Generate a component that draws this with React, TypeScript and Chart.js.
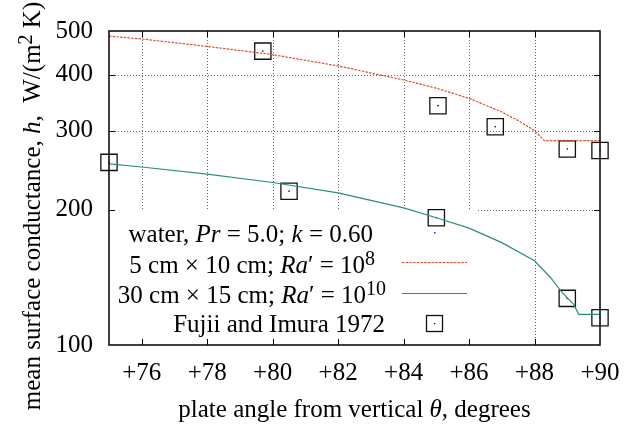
import React, { useEffect, useRef } from "react";
import { Chart, registerables } from "chart.js";
Chart.register(...registerables);

// ---- data ----
const xTickValues = [76, 78, 80, 82, 84, 86, 88, 90];
const yTickValues = [100, 200, 300, 400, 500];

// 5 cm x 10 cm; Ra' = 1e8
const smallPlateTheta = [75, 76, 78, 80, 82, 84, 85, 86, 86.5, 87, 87.5, 88, 88.3, 90];
const smallPlateH = [487, 480, 462, 443, 418, 389, 373, 354, 342, 330, 316, 300, 285, 285];

// 30 cm x 15 cm; Ra' = 1e10
const largePlateTheta = [75, 76, 78, 80, 82, 84, 85, 86, 87, 88, 88.5, 88.8, 89.2, 89.35, 90];
const largePlateH = [253, 249, 240, 230, 218, 202, 192, 182, 169, 154, 141, 132, 123, 117, 117];

// Fujii and Imura 1972
const fujiiTheta = [75, 79.7, 80.5, 85.05, 86.8, 89, 90, 85, 89, 90];
const fujiiH = [255, 451, 220, 341, 306, 273, 271, 192, 127, 115];

const FONT = '"Liberation Serif", "DejaVu Serif", serif';
const FS = 25;
const RED = "#d9522c";
const GREEN = "#2a8f78";
const PURPLE = "#9400d3";

type Seg = { t: string; it?: boolean; sup?: boolean };

const legendLines: Seg[][] = [
  [{ t: "water, " }, { t: "Pr", it: true }, { t: " = 5.0; " }, { t: "k", it: true }, { t: " = 0.60" }],
  [{ t: "5 cm \u00d7 10 cm; " }, { t: "Ra", it: true }, { t: "\u2032 = 10" }, { t: "8", sup: true }],
  [{ t: "30 cm \u00d7 15 cm; " }, { t: "Ra", it: true }, { t: "\u2032 = 10" }, { t: "10", sup: true }],
  [{ t: "Fujii and Imura 1972" }],
];

function segFont(s: Seg, size: number) {
  return `${s.it ? "italic " : ""}${s.sup ? Math.round(size * 0.8) : size}px ${FONT}`;
}
function richWidth(ctx: CanvasRenderingContext2D, segs: Seg[], size: number) {
  let w = 0;
  for (const s of segs) {
    ctx.font = segFont(s, size);
    w += ctx.measureText(s.t).width;
  }
  return w;
}
function drawRich(ctx: CanvasRenderingContext2D, segs: Seg[], x: number, y: number, size: number) {
  let cx = x;
  ctx.textBaseline = "alphabetic";
  ctx.textAlign = "left";
  for (const s of segs) {
    ctx.font = segFont(s, size);
    ctx.fillText(s.t, cx, s.sup ? y - size * 0.3 : y);
    cx += ctx.measureText(s.t).width;
  }
}

export default function App() {
  const ref = useRef<HTMLCanvasElement>(null);
  useEffect(() => {
    document.body.style.margin = "0";
    const canvas = ref.current!;
    const ctx = canvas.getContext("2d")!;
    const toXY = (xs: number[], ys: number[]) => xs.map((x, i) => ({ x, y: ys[i] }));

    const overlay = {
      id: "overlay",
      beforeDatasetsDraw(chart: any) {
        const c: CanvasRenderingContext2D = chart.ctx;
        const a = chart.chartArea;
        const xs = chart.scales.x;
        const ys = chart.scales.y;
        c.save();
        // dotted grid
        c.strokeStyle = "#666";
        c.lineWidth = 1;
        c.setLineDash([1, 2]);
        c.beginPath();
        for (const v of xTickValues) {
          const px = Math.round(xs.getPixelForValue(v)) + 0.5;
          if (px > a.right - 2) continue;
          c.moveTo(px, a.top);
          c.lineTo(px, a.bottom);
        }
        for (const v of yTickValues) {
          const py = Math.round(ys.getPixelForValue(v)) + 0.5;
          if (py < a.top + 2 || py > a.bottom - 2) continue;
          c.moveTo(a.left, py);
          c.lineTo(a.right, py);
        }
        c.stroke();
        c.setLineDash([]);
        // opaque key box
        c.fillStyle = "#fff";
        c.fillRect(a.left + 1, 210, 476 - a.left, a.bottom - 211);
        c.fillStyle = "#000";
        const rights = [373, 375, 386, 385];
        const bases = [241.5, 272.5, 302.5, 331.5];
        legendLines.forEach((segs, i) => {
          const w = richWidth(c, segs, FS);
          drawRich(c, segs, rights[i] - w, bases[i], FS);
        });
        // samples
        c.fillStyle = PURPLE;
        c.fillRect(434, 232, 1.5, 1.5);
        c.strokeStyle = RED;
        c.lineWidth = 1.2;
        c.setLineDash([2.5, 1.2]);
        c.beginPath();
        c.moveTo(402, 262.5);
        c.lineTo(467, 262.5);
        c.stroke();
        c.setLineDash([]);
        c.strokeStyle = GREEN;
        c.beginPath();
        c.moveTo(402, 293.5);
        c.lineTo(467, 293.5);
        c.stroke();
        c.strokeStyle = "#111";
        c.lineWidth = 1.3;
        c.strokeRect(434.5 - 8, 323.5 - 8, 16, 16);
        c.fillStyle = "#000";
        c.fillRect(434, 323, 1.2, 1.2);
        c.restore();
      },
      afterDatasetsDraw(chart: any) {
        const c: CanvasRenderingContext2D = chart.ctx;
        const a = chart.chartArea;
        const xs = chart.scales.x;
        const ys = chart.scales.y;
        c.save();
        c.strokeStyle = "#000";
        c.lineWidth = 1;
        c.beginPath();
        for (const v of xTickValues) {
          const px = Math.round(xs.getPixelForValue(v)) + 0.5;
          if (px > a.right - 2) continue;
          c.moveTo(px, a.bottom);
          c.lineTo(px, a.bottom - 6);
          c.moveTo(px, a.top);
          c.lineTo(px, a.top + 6);
        }
        for (const v of yTickValues) {
          const py = Math.round(ys.getPixelForValue(v)) + 0.5;
          if (py < a.top + 2 || py > a.bottom - 2) continue;
          c.moveTo(a.left, py);
          c.lineTo(a.left + 6, py);
          c.moveTo(a.right, py);
          c.lineTo(a.right - 6, py);
        }
        c.stroke();
        c.lineWidth = 1.6;
        c.strokeStyle = "#111";
        c.strokeRect(a.left, a.top, a.right - a.left, a.bottom - a.top);
        c.restore();
      },
      afterDraw(chart: any) {
        const c: CanvasRenderingContext2D = chart.ctx;
        const a = chart.chartArea;
        c.save();
        c.fillStyle = "#000";
        // x title
        const xt: Seg[] = [{ t: "plate angle from vertical " }, { t: "\u03b8", it: true }, { t: ", degrees" }];
        const wx = richWidth(c, xt, FS);
        drawRich(c, xt, (a.left + a.right) / 2 - wx / 2, 417, FS);
        // y title
        const yt: Seg[] = [
          { t: "mean surface conductance, " },
          { t: "h", it: true },
          { t: ",  W/(m" },
          { t: "2", sup: true },
          { t: " K)" },
        ];
        const wy = richWidth(c, yt, FS);
        c.translate(39.5, 206);
        c.rotate(-Math.PI / 2);
        drawRich(c, yt, -wy / 2, 0, FS);
        c.restore();
      },
    };

    const chart = new Chart(ctx, {
      type: "line",
      data: {
        datasets: [
          {
            label: "5 cm x 10 cm",
            data: toXY(smallPlateTheta, smallPlateH),
            borderColor: RED,
            borderWidth: 1.2,
            borderDash: [2.5, 1.2],
            pointRadius: 0,
            tension: 0,
            fill: false,
          },
          {
            label: "30 cm x 15 cm",
            data: toXY(largePlateTheta, largePlateH),
            borderColor: GREEN,
            borderWidth: 1.2,
            pointRadius: 0,
            tension: 0,
            fill: false,
          },
          {
            label: "Fujii and Imura 1972",
            data: toXY(fujiiTheta, fujiiH),
            showLine: false,
            pointStyle: "rect",
            pointRadius: 11.5,
            pointBorderWidth: 1.3,
            pointBorderColor: "#111",
            pointBackgroundColor: "rgba(0,0,0,0)",
            clip: false as any,
          },
          {
            label: "centre",
            data: toXY(fujiiTheta, fujiiH),
            showLine: false,
            pointStyle: "circle",
            pointRadius: 0.8,
            pointBorderWidth: 0,
            pointBackgroundColor: "#000",
            clip: false as any,
          },
        ],
      },
      options: {
        responsive: false,
        animation: false,
        devicePixelRatio: 1,
        events: [],
        layout: { padding: { left: 0, top: 16, right: 40, bottom: 0 } },
        plugins: { legend: { display: false }, tooltip: { enabled: false } },
        scales: {
          x: {
            type: "linear",
            min: 75,
            max: 90,
            afterBuildTicks: (s: any) => {
              s.ticks = xTickValues.map((v) => ({ value: v }));
            },
            afterFit: (s: any) => {
              s.height = 81;
            },
            ticks: {
              callback: (v: any) => "+" + v,
              font: { family: FONT, size: FS },
              color: "#000",
              padding: 13,
              maxRotation: 0,
              autoSkip: false,
            },
            grid: { display: false, drawTicks: false },
            border: { display: false },
          },
          y: {
            type: "logarithmic",
            min: 100,
            max: 500,
            afterBuildTicks: (s: any) => {
              s.ticks = yTickValues.map((v) => ({ value: v }));
            },
            afterFit: (s: any) => {
              s.width = 109;
            },
            ticks: {
              callback: (v: any) => String(v),
              font: { family: FONT, size: FS },
              color: "#000",
              padding: 16,
              autoSkip: false,
            },
            grid: { display: false, drawTicks: false },
            border: { display: false },
          },
        },
      },
      plugins: [overlay],
    });
    let alive = true;
    Promise.all([
      document.fonts.load(`${FS}px "Liberation Serif"`),
      document.fonts.load(`italic ${FS}px "Liberation Serif"`),
      document.fonts.load(`20px "Liberation Serif"`),
    ])
      .then(() => {
        if (alive) chart.update();
      })
      .catch(() => {});
    return () => {
      alive = false;
      chart.destroy();
    };
  }, []);
  return (
    <div style={{ position: "absolute", left: 0, top: 0, width: 640, height: 426, background: "#fff" }}>
      <canvas ref={ref} width={640} height={426} style={{ width: 640, height: 426, display: "block" }} />
    </div>
  );
}
